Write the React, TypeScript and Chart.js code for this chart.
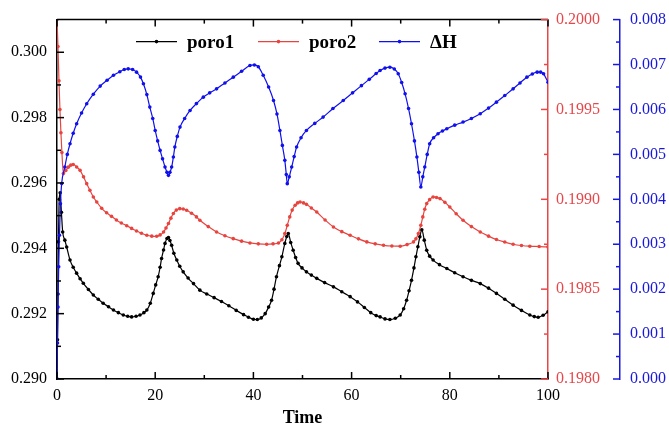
import React, { useEffect, useRef } from 'react';
import { Chart, registerables } from 'chart.js';

Chart.register(...registerables);

// ---------- data ----------
const poro1Time = [0, 0.1, 0.2, 0.3, 0.45, 0.65, 0.9, 1.16, 1.6, 1.97, 2.65, 3.3, 3.99, 4.7, 5.36, 6.4, 7.4, 8.4, 9.4, 10.5, 11.5, 12.5, 13.5, 14.4, 15.2, 16.1, 16.9, 17.7, 18.3, 19.0, 19.6, 20.1, 20.6, 21.0, 21.3, 21.7, 22.0, 22.4, 22.7, 23.0, 23.35, 23.8, 24.4, 25.0, 25.7, 26.7, 27.8, 29.1, 30.5, 32.0, 33.5, 35.0, 36.5, 38.0, 39.0, 40.0, 40.8, 41.6, 42.4, 43.1, 43.7, 44.2, 44.7, 45.3, 45.8, 46.4, 46.8, 47.1, 47.6, 48.1, 48.6, 49.1, 49.9, 50.8, 51.8, 52.9, 54.5, 56.3, 58.0, 59.7, 61.2, 62.6, 63.9, 65.0, 65.8, 66.8, 67.8, 68.9, 69.9, 70.6, 71.2, 71.7, 72.2, 72.7, 73.1, 73.5, 73.9, 74.3, 74.8, 75.3, 75.9, 76.6, 77.9, 79.4, 81.0, 82.7, 84.4, 86.2, 87.9, 89.5, 91.2, 92.9, 94.6, 96.3, 97.2, 98.0, 99.0, 100];
const poro1Values = [0.2900, 0.2912, 0.2926, 0.2942, 0.2955, 0.2957, 0.2951, 0.29450, 0.29425, 0.29404, 0.29364, 0.29342, 0.29324, 0.29307, 0.29293, 0.29274, 0.29257, 0.29244, 0.29232, 0.29221, 0.29211, 0.29203, 0.29196, 0.29192, 0.29190, 0.29192, 0.29196, 0.29203, 0.29211, 0.29232, 0.29262, 0.29288, 0.29313, 0.29342, 0.29369, 0.29395, 0.29415, 0.29430, 0.29433, 0.29424, 0.29409, 0.29385, 0.29364, 0.29345, 0.29328, 0.29309, 0.29292, 0.29272, 0.29260, 0.29249, 0.29237, 0.29224, 0.29210, 0.29197, 0.29189, 0.29183, 0.29182, 0.29187, 0.29200, 0.29220, 0.29241, 0.29275, 0.29313, 0.29347, 0.29374, 0.29415, 0.29436, 0.29445, 0.29418, 0.29394, 0.29372, 0.29354, 0.29340, 0.29328, 0.29318, 0.29308, 0.29295, 0.29282, 0.29267, 0.29252, 0.29236, 0.29219, 0.29203, 0.29194, 0.29190, 0.29184, 0.29182, 0.29186, 0.29196, 0.29215, 0.29241, 0.29270, 0.29302, 0.29340, 0.29374, 0.29405, 0.29435, 0.29457, 0.29425, 0.29394, 0.29376, 0.29364, 0.29350, 0.29338, 0.29325, 0.29313, 0.29302, 0.29292, 0.29278, 0.29262, 0.29244, 0.29226, 0.29210, 0.29196, 0.29191, 0.29189, 0.29195, 0.29206];

const poro2Time = [0, 0.2, 0.4, 0.6, 0.8, 1.0, 1.3, 1.8, 2.3, 2.8, 3.3, 4.0, 4.7, 5.4, 6.05, 6.7, 7.4, 8.1, 9.1, 10.1, 11.1, 12.1, 13.1, 14.2, 15.2, 16.2, 17.2, 18.3, 19.3, 20.3, 21.0, 21.7, 22.2, 22.7, 23.2, 23.7, 24.3, 25.0, 25.7, 26.4, 27.4, 28.4, 29.1, 30.8, 32.5, 34.2, 35.9, 37.6, 39.3, 41.0, 42.7, 44.0, 45.1, 45.8, 46.4, 46.9, 47.4, 47.9, 48.5, 49.0, 49.5, 50.2, 50.8, 51.8, 52.9, 54.6, 56.3, 58.0, 59.7, 61.4, 63.1, 64.8, 66.5, 68.2, 69.9, 71.3, 72.6, 73.1, 73.6, 74.1, 74.5, 74.9, 75.3, 75.9, 76.6, 77.3, 78.0, 79.0, 80.0, 81.3, 82.7, 84.4, 86.2, 87.9, 89.5, 91.2, 92.9, 94.6, 96.3, 98.2, 100];
const poro2Values = [0.2000, 0.19985, 0.19966, 0.19950, 0.19937, 0.19926, 0.199143, 0.199160, 0.199179, 0.199190, 0.199194, 0.199180, 0.199161, 0.199125, 0.199087, 0.199050, 0.199013, 0.198985, 0.198950, 0.198925, 0.198905, 0.198885, 0.198868, 0.198853, 0.198838, 0.198824, 0.198811, 0.198800, 0.198795, 0.198794, 0.198802, 0.198818, 0.198840, 0.198865, 0.198895, 0.198921, 0.198940, 0.198948, 0.198946, 0.198939, 0.198922, 0.198902, 0.198883, 0.198848, 0.198818, 0.198797, 0.198781, 0.198767, 0.198757, 0.198752, 0.198750, 0.198752, 0.198757, 0.198775, 0.198809, 0.198855, 0.198902, 0.198940, 0.198967, 0.198980, 0.198985, 0.198980, 0.198972, 0.198952, 0.198929, 0.198885, 0.198846, 0.198820, 0.198800, 0.198780, 0.198763, 0.198752, 0.198744, 0.198740, 0.198739, 0.198748, 0.198763, 0.198780, 0.198809, 0.198855, 0.198902, 0.198945, 0.198976, 0.198998, 0.199013, 0.199010, 0.199004, 0.198983, 0.198957, 0.198920, 0.198883, 0.198848, 0.198818, 0.198795, 0.198776, 0.198762, 0.198750, 0.198743, 0.198739, 0.198737, 0.198735];

const dHTime = [0, 0.1, 0.2, 0.35, 0.5, 0.7, 0.95, 1.6, 2.1, 2.65, 3.3, 4.0, 5.0, 6.05, 7.4, 8.8, 10.2, 11.5, 12.8, 13.7, 14.5, 15.4, 16.2, 17.0, 17.6, 18.3, 18.9, 19.5, 20.0, 20.5, 21.0, 21.5, 22.0, 22.4, 22.7, 23.0, 23.35, 23.7, 24.0, 24.5, 25.05, 26.0, 27.1, 28.4, 29.8, 31.1, 32.5, 34.2, 35.9, 37.6, 39.3, 40.2, 41.0, 42.0, 43.1, 44.1, 44.8, 45.4, 45.9, 46.4, 46.7, 46.9, 47.3, 47.8, 48.3, 48.8, 49.7, 50.8, 52.5, 54.2, 56.2, 58.3, 60.2, 62.0, 63.6, 65.0, 65.8, 66.8, 67.8, 68.7, 69.5, 70.2, 70.9, 71.6, 72.2, 72.8, 73.3, 73.7, 74.1, 74.5, 74.9, 75.4, 75.9, 76.7, 77.6, 78.5, 79.4, 81.0, 82.7, 84.4, 86.2, 87.9, 89.5, 91.2, 92.9, 94.3, 95.7, 96.8, 97.8, 98.5, 99.1, 100];
const dHValues = [0, 0.0008, 0.0016, 0.0025, 0.0032, 0.0039, 0.00435, 0.00472, 0.00500, 0.005237, 0.00547, 0.005682, 0.00592, 0.006126, 0.00634, 0.00652, 0.00665, 0.00676, 0.00684, 0.00689, 0.006904, 0.00689, 0.006830, 0.00672, 0.006571, 0.00633, 0.006052, 0.00580, 0.005533, 0.00530, 0.005089, 0.00490, 0.004718, 0.00460, 0.004533, 0.00460, 0.004718, 0.00494, 0.005163, 0.00540, 0.005607, 0.00580, 0.005978, 0.00613, 0.006274, 0.00637, 0.006459, 0.00659, 0.006719, 0.00685, 0.006978, 0.00699, 0.00695, 0.00676, 0.00650, 0.0062, 0.00590, 0.005533, 0.00520, 0.004867, 0.00455, 0.004348, 0.00450, 0.004718, 0.00495, 0.005163, 0.00537, 0.005533, 0.00569, 0.005830, 0.00602, 0.0062, 0.00637, 0.00653, 0.00667, 0.00680, 0.006867, 0.00692, 0.00694, 0.00690, 0.006793, 0.00660, 0.006348, 0.00602, 0.005682, 0.00530, 0.00494, 0.00460, 0.004274, 0.00450, 0.004718, 0.00500, 0.005237, 0.00537, 0.005459, 0.00552, 0.005570, 0.00565, 0.005719, 0.00580, 0.005904, 0.00603, 0.006163, 0.00631, 0.006459, 0.00659, 0.006719, 0.00679, 0.006830, 0.00683, 0.006793, 0.006607];

// ---------- ticks ----------
const xMajorTicks = [0, 20, 40, 60, 80, 100];
const xMinorTicks = [10, 30, 50, 70, 90];
const leftMajorTicks = [0.290, 0.292, 0.294, 0.296, 0.298, 0.300];
const leftMinorTicks = [0.291, 0.293, 0.295, 0.297, 0.299];
const redMajorTicks = [0.1980, 0.1985, 0.1990, 0.1995, 0.2000];
const redMinorTicks = [0.19825, 0.19875, 0.19925, 0.19975];
const blueMajorTicks = [0, 0.001, 0.002, 0.003, 0.004, 0.005, 0.006, 0.007, 0.008];
const blueMinorTicks = [0.0005, 0.0015, 0.0025, 0.0035, 0.0045, 0.0055, 0.0065, 0.0075];

const seriesNames = ['poro1', 'poro2', 'ΔH'];
const xTitle = 'Time';

const BLACK = '#000000';
const RED = '#e8443f';
const RED_AXIS = '#e8474a';
const BLUE = '#1010ee';
const BLUE_AXIS = '#1818dd';
const SERIF = "'Liberation Serif', 'Times New Roman', serif";

const decorPlugin = {
  id: 'decor',
  afterDraw(chart: any) {
    const { ctx, chartArea: a, scales } = chart;
    const sx = scales.x, sl = scales.y, sr = scales.yR, sb = scales.yB;
    ctx.save();
    ctx.lineWidth = 1.5;
    const seg = (x1: number, y1: number, x2: number, y2: number, c: string) => {
      ctx.strokeStyle = c;
      ctx.beginPath();
      ctx.moveTo(x1, y1);
      ctx.lineTo(x2, y2);
      ctx.stroke();
    };
    // top frame
    seg(a.left, a.top, a.right, a.top, BLACK);
    // x ticks bottom/top (inward)
    xMajorTicks.forEach((v) => {
      const p = sx.getPixelForValue(v);
      seg(p, a.bottom, p, a.bottom - 7, BLACK);
      seg(p, a.top, p, a.top + 7, BLACK);
    });
    xMinorTicks.forEach((v) => {
      const p = sx.getPixelForValue(v);
      seg(p, a.bottom, p, a.bottom - 4, BLACK);
      seg(p, a.top, p, a.top + 4, BLACK);
    });
    // left ticks
    leftMajorTicks.forEach((v) => {
      const p = sl.getPixelForValue(v);
      seg(a.left, p, a.left + 7, p, BLACK);
    });
    leftMinorTicks.forEach((v) => {
      const p = sl.getPixelForValue(v);
      seg(a.left, p, a.left + 4, p, BLACK);
    });
    // red ticks
    redMajorTicks.forEach((v) => {
      const p = sr.getPixelForValue(v);
      seg(a.right, p, a.right - 7, p, RED_AXIS);
    });
    redMinorTicks.forEach((v) => {
      const p = sr.getPixelForValue(v);
      seg(a.right, p, a.right - 4, p, RED_AXIS);
    });
    // blue ticks
    const bx = sb.left;
    blueMajorTicks.forEach((v) => {
      const p = sb.getPixelForValue(v);
      seg(bx, p, bx - 7, p, BLUE_AXIS);
    });
    blueMinorTicks.forEach((v) => {
      const p = sb.getPixelForValue(v);
      seg(bx, p, bx - 4, p, BLUE_AXIS);
    });

    // legend (inside plot area)
    const colors = [BLACK, RED, BLUE];
    const starts = [a.left + 79, a.left + 201, a.left + 322];
    const ly = a.top + 22;
    ctx.font = `bold 19px ${SERIF}`;
    ctx.textBaseline = 'alphabetic';
    ctx.textAlign = 'left';
    seriesNames.forEach((name, i) => {
      const x0 = starts[i];
      ctx.lineWidth = 1.2;
      seg(x0, ly, x0 + 41, ly, colors[i]);
      ctx.fillStyle = colors[i];
      ctx.beginPath();
      ctx.arc(x0 + 20.5, ly, 1.8, 0, Math.PI * 2);
      ctx.fill();
      ctx.fillStyle = '#000';
      ctx.fillText(name, x0 + 51, ly + 6);
    });
    ctx.restore();
  },
};

function toPoints(t: number[], v: number[]) {
  return t.map((x, i) => ({ x, y: v[i] }));
}

export default function App() {
  const ref = useRef<HTMLCanvasElement | null>(null);
  useEffect(() => {
    document.body.style.margin = '0';
    if (!ref.current) return;
    const mk = (label: string, t: number[], v: number[], color: string, axis: string) => ({
      label,
      data: toPoints(t, v),
      borderColor: color,
      backgroundColor: color,
      borderWidth: 1.2,
      pointRadius: 1.8,
      pointBorderWidth: 0,
      pointBackgroundColor: color,
      cubicInterpolationMode: 'monotone' as const,
      yAxisID: axis,
    });
    const chart = new Chart(ref.current, {
      type: 'line',
      data: {
        datasets: [
          mk(seriesNames[2], dHTime, dHValues, BLUE, 'yB'),
          mk(seriesNames[1], poro2Time, poro2Values, RED, 'yR'),
          mk(seriesNames[0], poro1Time, poro1Values, BLACK, 'y'),
        ],
      },
      options: {
        animation: false,
        responsive: false,
        layout: { padding: { top: 19, left: 0, right: 0, bottom: 0 } },
        plugins: { legend: { display: false }, tooltip: { enabled: false } },
        scales: {
          x: {
            type: 'linear',
            min: 0,
            max: 100,
            afterBuildTicks: (s: any) => { s.ticks = xMajorTicks.map((value) => ({ value })); },
            afterFit: (s: any) => { s.height = 55; },
            grid: { display: true, drawOnChartArea: false, drawTicks: false },
            border: { display: true, color: BLACK, width: 1.5 },
            ticks: { color: '#000', padding: 7, maxRotation: 0, font: { family: SERIF, size: 16 } },
            title: { display: true, text: xTitle, color: '#000', padding: { top: 0, bottom: 5 }, font: { family: SERIF, size: 18, weight: 'bold' } },
          },
          y: {
            type: 'linear',
            position: 'left',
            min: 0.290,
            max: 0.301,
            afterBuildTicks: (s: any) => { s.ticks = leftMajorTicks.map((value) => ({ value })); },
            afterFit: (s: any) => { s.width = 57; },
            grid: { display: true, drawOnChartArea: false, drawTicks: false },
            border: { display: true, color: BLACK, width: 1.5 },
            ticks: { color: '#000', padding: 10, font: { family: SERIF, size: 16 }, callback: (v: any) => Number(v).toFixed(3) },
          },
          yR: {
            type: 'linear',
            position: 'right',
            weight: 0,
            min: 0.1980,
            max: 0.2000,
            afterBuildTicks: (s: any) => { s.ticks = redMajorTicks.map((value) => ({ value })); },
            afterFit: (s: any) => { s.width = 72; },
            grid: { display: true, drawOnChartArea: false, drawTicks: false },
            border: { display: true, color: RED_AXIS, width: 1.5 },
            ticks: { color: RED_AXIS, padding: 8, font: { family: SERIF, size: 16 }, callback: (v: any) => Number(v).toFixed(4) },
          },
          yB: {
            type: 'linear',
            position: 'right',
            weight: 1,
            min: 0,
            max: 0.008,
            afterBuildTicks: (s: any) => { s.ticks = blueMajorTicks.map((value) => ({ value })); },
            afterFit: (s: any) => { s.width = 49; },
            grid: { display: true, drawOnChartArea: false, drawTicks: false },
            border: { display: true, color: BLUE_AXIS, width: 1.5 },
            ticks: { color: BLUE_AXIS, padding: 10, font: { family: SERIF, size: 16 }, callback: (v: any) => Number(v).toFixed(3) },
          },
        },
      } as any,
      plugins: [decorPlugin],
    });
    return () => chart.destroy();
  }, []);
  return (
    <div style={{ position: 'absolute', left: 0, top: 0, width: 669, height: 434, background: '#fff' }}>
      <canvas ref={ref} width={669} height={434} style={{ display: 'block' }} />
    </div>
  );
}
